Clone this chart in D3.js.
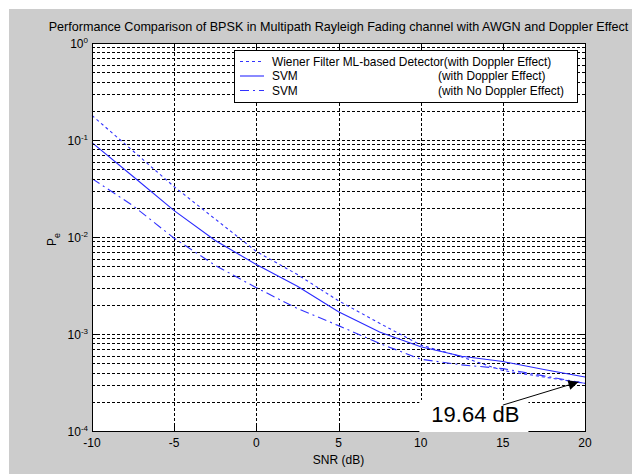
<!DOCTYPE html>
<html>
<head>
<meta charset="utf-8">
<script src="https://cdn.jsdelivr.net/npm/d3@7"></script>
<style>
  body { margin: 0; background: #fff; }
  text { font-family: Arial, "Liberation Sans", sans-serif; fill: #000; }
</style>
</head>
<body>
<div id="chart"></div>
<script>
// data
var snr = [-10, -7.5, -5, -2.5, 0, 2.5, 5, 7.5, 10, 12.5, 15, 17.5, 20];
var wienerDoppler = [0.179, 0.077, 0.033, 0.0153, 0.0071, 0.0041, 0.0022, 0.00129, 0.00077, 0.00058, 0.00042, 0.00036, 0.00031];
var svmDoppler = [0.094, 0.042, 0.0187, 0.0092, 0.0052, 0.0031, 0.0017, 0.00105, 0.00074, 0.00059, 0.00052, 0.00043, 0.00036];
var svmNoDoppler = [0.040, 0.021, 0.0097, 0.0051, 0.0030, 0.00183, 0.00122, 0.0008, 0.00055, 0.00048, 0.00044, 0.00037, 0.00031];
var xTicks = [-10, -5, 0, 5, 10, 15, 20];
var yDecades = [0, -1, -2, -3, -4];
var legendNames = ["Wiener Filter ML-based Detector(with Doppler Effect)", "SVM", "SVM"];
var legendNotes = ["", "(with Doppler Effect)", "(with No Doppler Effect)"];
var annoText = "19.64 dB";
var annoTip = [19.6, 3.2e-4];
var annoTail = [15, 1.85e-4];

var W = 632, H = 474;
var margin = {left: 92, top: 43, right: 47, bottom: 43};
var pw = W - margin.left - margin.right, ph = H - margin.top - margin.bottom;

var svg = d3.select("#chart").append("svg")
  .attr("width", W).attr("height", H);

// figure background
svg.append("rect").attr("x", 9).attr("y", 9).attr("width", W - 9).attr("height", H - 9)
  .attr("fill", "#cccccc");

var g = svg.append("g").attr("transform", `translate(${margin.left},${margin.top})`);

var x = d3.scaleLinear().domain([-10, 20]).range([0, pw]);
var y = d3.scaleLog().domain([1e-4, 1]).range([ph, 0]);

g.append("rect").attr("width", pw).attr("height", ph).attr("fill", "#fff");

// grid values for log axis: decades + minor 2..9
var minor = [];
for (let d = -4; d < 0; d++) {
  for (let k = 2; k <= 9; k++) { minor.push(k * Math.pow(10, d)); }
}
var majorY = yDecades.map(d => Math.pow(10, d));

var grid = g.append("g").attr("stroke", "#000").attr("stroke-width", 1)
  .attr("stroke-dasharray", "3,2").attr("fill", "none");
grid.selectAll(".gy").data(minor.concat(majorY.slice(1, 4))).enter().append("line")
  .attr("x1", 0).attr("x2", pw)
  .attr("y1", d => Math.round(y(d)) + 0.5).attr("y2", d => Math.round(y(d)) + 0.5);
grid.selectAll(".gx").data(xTicks.slice(1, -1)).enter().append("line")
  .attr("y1", 0).attr("y2", ph)
  .attr("x1", d => Math.round(x(d)) + 0.5).attr("x2", d => Math.round(x(d)) + 0.5);

// curves
var line = d3.line().x(d => x(d[0])).y(d => y(d[1]));
var series = [
  {vals: wienerDoppler, dash: "3,3", color: "#3333ff"},
  {vals: svmDoppler, dash: null, color: "#2a2aff"},
  {vals: svmNoDoppler, dash: "9,4,2,4", color: "#3333ff"}
];
series.forEach(function(s) {
  g.append("path")
    .datum(snr.map((v, i) => [v, s.vals[i]]))
    .attr("d", line)
    .attr("fill", "none")
    .attr("stroke", s.color)
    .attr("stroke-width", 1.1)
    .attr("stroke-dasharray", s.dash);
});

// ticks (inside, MATLAB style)
var ticks = g.append("g").attr("stroke", "#000").attr("stroke-width", 1);
xTicks.forEach(function(t) {
  var px = Math.round(x(t)) + 0.5;
  ticks.append("line").attr("x1", px).attr("x2", px).attr("y1", ph).attr("y2", ph - 5);
  ticks.append("line").attr("x1", px).attr("x2", px).attr("y1", 0).attr("y2", 5);
});
majorY.concat(minor).forEach(function(v, i) {
  var len = i < majorY.length ? 5 : 3;
  var py = Math.round(y(v)) + 0.5;
  ticks.append("line").attr("x1", 0).attr("x2", len).attr("y1", py).attr("y2", py);
  ticks.append("line").attr("x1", pw).attr("x2", pw - len).attr("y1", py).attr("y2", py);
});

// x tick labels
g.append("g").selectAll("text").data(xTicks).enter().append("text")
  .attr("x", d => x(d)).attr("y", ph + 16)
  .attr("text-anchor", "middle").attr("font-size", "12px")
  .text(d => d);

// y tick labels 10^n
var yl = g.append("g").selectAll("text").data(yDecades).enter().append("text")
  .attr("y", d => y(Math.pow(10, d)) + 4.5)
  .attr("font-size", "12px");
yl.append("tspan").text("10");
yl.append("tspan").attr("dy", -5).attr("font-size", "8px").text(d => d);
yl.each(function() {
  // exponent follows "10", right edge just left of the axis
  var w = this.getComputedTextLength();
  d3.select(this).attr("x", -4 - w);
});

// axis box
g.append("rect").attr("x", 0.5).attr("y", 0.5).attr("width", pw).attr("height", ph)
  .attr("fill", "none").attr("stroke", "#000").attr("stroke-width", 1);

// title, fitted to the figure width
var title = svg.append("text").attr("x", margin.left + pw / 2).attr("y", 31)
  .attr("text-anchor", "middle").attr("font-size", "12px")
  .text("Performance Comparison of BPSK in Multipath Rayleigh Fading channel with AWGN and Doppler Effect");
var tw = title.node().getComputedTextLength();
title.attr("font-size", (12 * 580 / tw).toFixed(2) + "px");

// axis labels
svg.append("text").attr("x", margin.left + pw / 2).attr("y", 464)
  .attr("text-anchor", "middle").attr("font-size", "12px").text("SNR (dB)");
var yLab = svg.append("text").attr("transform", "translate(56,246) rotate(-90)")
  .attr("font-size", "12px");
yLab.append("tspan").text("P");
yLab.append("tspan").attr("dy", 4).attr("font-size", "9px").text("e");

// legend
var lg = svg.append("g").attr("transform", "translate(234,50)");
lg.append("rect").attr("x", 0.5).attr("y", 0.5).attr("width", 343).attr("height", 52)
  .attr("fill", "#fff").attr("stroke", "#000");
legendNames.forEach(function(name, i) {
  var ly = 11.5 + i * 14.5;
  lg.append("line").attr("x1", 6).attr("x2", 30).attr("y1", ly).attr("y2", ly)
    .attr("stroke", series[i].color).attr("stroke-width", 1.1)
    .attr("stroke-dasharray", series[i].dash);
  lg.append("text").attr("x", 38).attr("y", ly + 4).attr("font-size", "11.9px").text(name);
  if (legendNotes[i]) {
    lg.append("text").attr("x", 204).attr("y", ly + 4).attr("font-size", "11.9px").text(legendNotes[i]);
  }
});

// annotation
var ag = g.append("g");
var at = ag.append("text").attr("x", x(10.65)).attr("y", 379)
  .attr("font-size", "22px").text(annoText);
var bb = at.node().getBBox();
ag.insert("rect", "text").attr("x", bb.x - 12).attr("y", bb.y - 2)
  .attr("width", bb.width + 21).attr("height", bb.height + 7).attr("fill", "#fff");
svg.append("defs").append("marker").attr("id", "arr")
  .attr("viewBox", "0 0 10 10").attr("refX", 10).attr("refY", 5)
  .attr("markerWidth", 14).attr("markerHeight", 10).attr("markerUnits", "userSpaceOnUse")
  .attr("orient", "auto")
  .append("path").attr("d", "M0,0L10,5L0,10Z").attr("fill", "#000");
ag.append("line")
  .attr("x1", x(annoTail[0])).attr("y1", y(annoTail[1]))
  .attr("x2", x(annoTip[0])).attr("y2", y(annoTip[1]))
  .attr("stroke", "#000").attr("stroke-width", 1)
  .attr("marker-end", "url(#arr)");
</script>
</body>
</html>
